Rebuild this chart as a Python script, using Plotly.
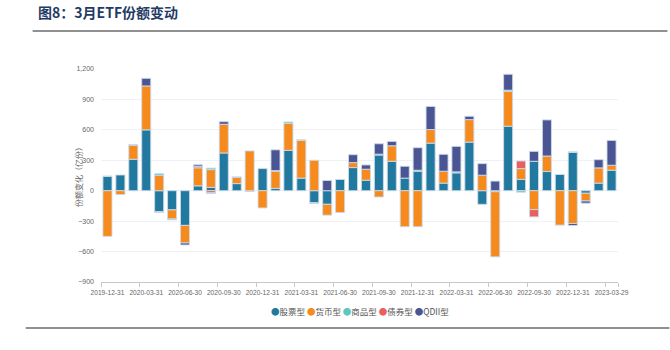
import plotly.graph_objects as go

dates = ["2019-12-31", "2020-01-31", "2020-02-29", "2020-03-31", "2020-04-30", "2020-05-31",
         "2020-06-30", "2020-07-31", "2020-08-31", "2020-09-30", "2020-10-31", "2020-11-30",
         "2020-12-31", "2021-01-31", "2021-02-28", "2021-03-31", "2021-04-30", "2021-05-31",
         "2021-06-30", "2021-07-31", "2021-08-31", "2021-09-30", "2021-10-31", "2021-11-30",
         "2021-12-31", "2022-01-31", "2022-02-28", "2022-03-31", "2022-04-30", "2022-05-31",
         "2022-06-30", "2022-07-31", "2022-08-31", "2022-09-30", "2022-10-31", "2022-11-30",
         "2022-12-31", "2023-01-31", "2023-02-28", "2023-03-29"]

stock = [140, 155, 310, 600, -205, -189, -342, 48, 33, 372, 70, -8, 218, 23, 398, 124, -117, -134, 111, 228,
         104, 352, 290, 124, 192, 469, 75, 176, 479, -134, -10, 636, 111, 290, 189, 160, 378, -25, 75, 202]
money = [-450, -38, 137, 433, 153, -90, -173, 178, 175, 283, 60, 392, -170, 170, 267, 372, 300, -107, -215, 49,
         108, -62, 153, -355, -355, 134, 117, 0, 222, 153, -642, 345, 107, -186, 153, -339, -323, -76, 150, 49]
commodity = [0, 0, 0, 0, 15, -8, 0, 0, 15, 0, 0, 0, 0, 5, 13, 6, 0, 0, 0, 0,
             0, 8, 0, 0, 10, 0, 0, 10, 0, 0, 0, 10, -15, 0, 0, 0, 5, 0, 0, 0]
bond = [0, 0, 0, 0, 0, 0, 0, 15, -20, 0, 0, 0, 0, 0, 0, 0, 0, 0, 0, 0,
        0, 0, 0, 0, 0, 0, 0, 0, 0, 0, 0, 0, 75, -72, 0, 0, 0, 0, 0, 0]
qdii = [5, 0, 6, 75, -8, 0, -20, 15, -5, 26, 6, 0, 0, 205, 0, 0, -8, 101, 0, 78,
        42, 103, 43, 117, 222, 228, 167, 251, 33, 114, 95, 157, 0, 98, 356, 0, -20, -22, 81, 245]

series_names = ["股票型", "货币型", "商品型", "债券型", "QDII型"]
series_vals = [stock, money, commodity, bond, qdii]
colors = ["#22799f", "#f78a1d", "#5ec7c1", "#e8615f", "#4b5593"]

tick_labels = dates[::3]
y_ticks = [-900, -600, -300, 0, 300, 600, 900, 1200]

fig = go.Figure()
for name, vals, col in zip(series_names, series_vals, colors):
    fig.add_trace(go.Bar(
        x=dates, y=[v if v != 0 else None for v in vals], name=name,
        marker=dict(color=col, line=dict(color="rgba(205,218,232,0.9)", width=1)),
        showlegend=False))

font_small = "Liberation Sans, Arial, sans-serif"

fig.update_layout(
    width=670, height=350,
    margin=dict(l=100.5, r=51.5, t=69, b=68, pad=0),
    paper_bgcolor="white", plot_bgcolor="white",
    barmode="relative", bargap=0.3,
    xaxis=dict(type="category", tickmode="array", tickvals=tick_labels, ticktext=tick_labels,
               tickson="boundaries", ticks="outside", ticklen=4, tickcolor="#c8c8c8",
               showline=True, linecolor="#c8c8c8", linewidth=1, showgrid=False,
               ticklabelstandoff=4,
               tickfont=dict(family=font_small, size=6.6, color="#666666"), tickangle=0),
    yaxis=dict(range=[-900, 1200], tickvals=y_ticks, tickformat=",d",
               showgrid=True, gridcolor="#eef1f6", gridwidth=1, zeroline=False,
               showline=False, ticks="", ticklabelstandoff=6,
               tickfont=dict(family=font_small, size=7, color="#666666")),
    font=dict(family="Noto Sans CJK SC"),
)

# y-axis title
fig.add_annotation(text="份额变化（亿份）", xref="paper", yref="paper",
                   x=(78 - 100.5) / 518, y=0.5, xanchor="center", yanchor="middle",
                   textangle=-90, showarrow=False,
                   font=dict(family="Noto Sans CJK SC", size=8, color="#666666"))

# legend as text
legend_html = " ".join(
    f"<span style='color:{c}'>●</span>{n}" for n, c in zip(series_names, colors))
fig.add_annotation(text=legend_html, xref="paper", yref="paper",
                   x=0.5, y=-(311 - 282) / 213, xanchor="center", yanchor="middle",
                   showarrow=False,
                   font=dict(family="Noto Sans CJK SC", size=8.5, color="#555555"))

# title
fig.add_annotation(text="<b>图8：3月ETF份额变动</b>", xref="paper", yref="paper",
                   x=(35 - 100.5) / 518, y=(282 - 12) / 213, xanchor="left", yanchor="middle",
                   showarrow=False,
                   font=dict(family="Noto Sans CJK SC", size=14, color="#1f3b66"))

# rule lines
fig.add_shape(type="line", xref="paper", yref="paper",
              x0=(32 - 100.5) / 518, x1=(668 - 100.5) / 518,
              y0=(282 - 31) / 213, y1=(282 - 31) / 213,
              line=dict(color="#222222", width=1.2))
fig.add_shape(type="line", xref="paper", yref="paper",
              x0=(25 - 100.5) / 518, x1=(670 - 100.5) / 518,
              y0=(282 - 328) / 213, y1=(282 - 328) / 213,
              line=dict(color="#222222", width=1.2))

fig.write_html("out.html")
